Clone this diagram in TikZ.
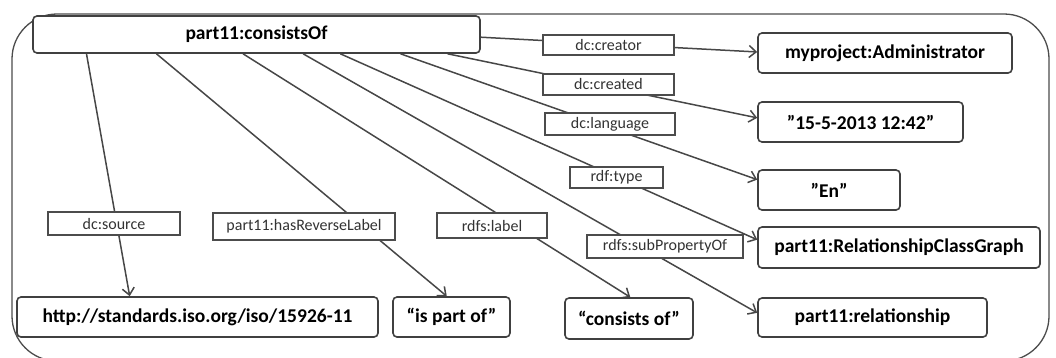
\documentclass[tikz,border=0pt]{standalone}
\usepackage{fontspec}
\setmainfont{Carlito}
\usetikzlibrary{arrows.meta,calc,backgrounds}
\newcommand{\sq}{\char34 }
\begin{document}
\begin{tikzpicture}[x=1pt,y=-1pt,
  obj/.style={draw=black!75, line width=1.6pt, rounded corners=4pt, fill=white,
    font=\bfseries\fontsize{19.5}{22}\selectfont, inner sep=0pt},
  lbl/.style={draw=black!70, line width=1.1pt, fill=white,
    font=\fontsize{16}{18}\selectfont, text=black!80, inner sep=0pt},
  conn/.style={draw=black!72, line width=1.5pt, -{Straight Barb[length=7pt,width=12pt]}},
  frame/.style={draw=black!70, line width=1.3pt, rounded corners=45pt}]
\useasboundingbox (0,0) rectangle (1056,357);
% objects
\node[obj, minimum width=447pt, minimum height=37pt] (top) at (256.5,34.5) {part11:consistsOf};
\node[obj, minimum width=254pt, minimum height=40pt] (admin) at (885,53) {myproject:Administrator};
\node[obj, minimum width=205pt, minimum height=40pt] (date) at (860.5,122) {\sq15-5-2013 12:42\sq};
\node[obj, minimum width=142pt, minimum height=40pt] (en) at (829,190) {\sq En\sq};
\node[obj, minimum width=282pt, minimum height=41pt] (rcg) at (899,247.5) {part11:RelationshipClassGraph};
\node[obj, minimum width=229pt, minimum height=39pt] (rel) at (872.5,317.5) {part11:relationship};
\node[obj, minimum width=128pt, minimum height=41pt] (cons) at (629,318.5) {“consists of”};
\node[obj, minimum width=117pt, minimum height=40pt] (ipo) at (451.5,317) {“is part of”};
\node[obj, minimum width=361pt, minimum height=40pt] (http) at (197.5,317) {http://standards.iso.org/iso/15926-11};
% labels
\node[lbl, minimum width=131pt, minimum height=20pt] (lcreator) at (608.5,45) {dc:creator};
\node[lbl, minimum width=131pt, minimum height=21pt] (lcreated) at (608.5,84.5) {dc:created};
\node[lbl, minimum width=130pt, minimum height=22pt] (llang) at (610,124) {dc:language};
\node[lbl, minimum width=93pt, minimum height=21pt] (ltype) at (616.5,177.5) {rdf:type};
\node[lbl, minimum width=156pt, minimum height=23pt] (lsub) at (665,246.5) {rdfs:subPropertyOf};
\node[lbl, minimum width=132pt, minimum height=23pt] (lsource) at (114,223.5) {dc:source};
\node[lbl, minimum width=182pt, minimum height=27pt] (lrev) at (304,226.5) {part11:hasReverseLabel};
\node[lbl, minimum width=110pt, minimum height=25pt] (llabel) at (492,225.5) {rdfs:label};
\begin{pgfonlayer}{background}
\draw[frame] (12,14) rectangle (1049,361);
\draw[conn] ($(top.south west)!0.121!(top.south east)$) -- ($(http.north west)!0.313!(http.north east)$);
\draw[conn] ($(top.south west)!0.277!(top.south east)$) -- ($(ipo.north west)!0.46!(ipo.north east)$);
\draw[conn] ($(top.south west)!0.47!(top.south east)$) -- ($(cons.north west)!0.51!(cons.north east)$);
\draw[conn] ($(top.south west)!0.604!(top.south east)$) -- ($(rel.north west)!0.385!(rel.south west)$);
\draw[conn] ($(top.south west)!0.687!(top.south east)$) -- ($(rcg.north west)!0.317!(rcg.south west)$);
\draw[conn] ($(top.south west)!0.821!(top.south east)$) -- ($(en.north west)!0.25!(en.south west)$);
\draw[conn] ($(top.south west)!0.926!(top.south east)$) -- ($(date.north west)!0.4!(date.south west)$);
\draw[conn] ($(top.north east)!0.57!(top.south east)$) -- ($(admin.north west)!0.475!(admin.south west)$);
\end{pgfonlayer}
\end{tikzpicture}
\end{document}
